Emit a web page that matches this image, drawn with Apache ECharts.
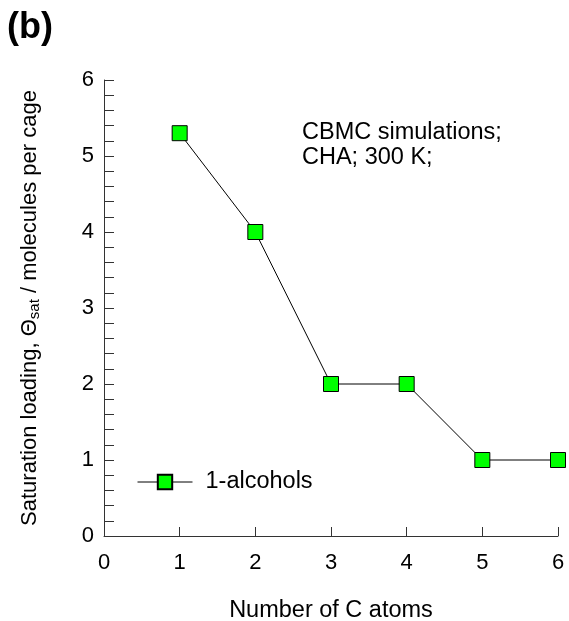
<!DOCTYPE html>
<html>
<head>
<meta charset="utf-8">
<script src="https://cdn.jsdelivr.net/npm/echarts@6/dist/echarts.min.js"></script>
<style>
  html, body { margin: 0; padding: 0; background: #fff; }
  #chart { width: 569px; height: 621px; }
</style>
</head>
<body>
<div id="chart"></div>
<script>
// Number of carbon atoms in each 1-alcohol
var carbonAtoms = [1, 2, 3, 4, 5, 6];
// Saturation loading, molecules per cage
var satLoading = [5.3, 4, 2, 2, 1, 1];
var xTicks = [0, 1, 2, 3, 4, 5, 6];
var yTicks = [0, 1, 2, 3, 4, 5, 6];
var seriesName = '1-alcohols';

var font = 'Arial, "Liberation Sans", sans-serif';
var chart = echarts.init(document.getElementById('chart'), null, { renderer: 'canvas' });

chart.setOption({
  animation: false,
  backgroundColor: '#fff',
  textStyle: { fontFamily: font },
  grid: {
    left: 104, right: 11, top: 80, bottom: 85,
    containLabel: false, outerBoundsMode: 'none'
  },
  title: {
    text: '(b)', left: 2, top: 5,
    textStyle: { fontFamily: font, fontSize: 36, fontWeight: 'bold', color: '#000' }
  },
  legend: {
    left: 137, top: 470, padding: 0,
    itemWidth: 55, itemHeight: 18, itemGap: 0,
    lineStyle: { width: 1, color: '#000' },
    textStyle: { fontFamily: font, fontSize: 23.5, color: '#000', padding: [0, 0, 0, 8] },
    data: [{ name: seriesName }]
  },
  graphic: [{
    type: 'text', left: 302, top: 120,
    style: {
      text: 'CBMC simulations;\nCHA; 300 K;',
      font: '23.5px ' + font, fill: '#000', lineHeight: 25
    }
  }],
  xAxis: {
    type: 'value', min: xTicks[0], max: xTicks[xTicks.length - 1], interval: 1,
    name: 'Number of C atoms', nameLocation: 'middle', nameGap: 63,
    nameTextStyle: { fontFamily: font, fontSize: 23.5, color: '#000' },
    axisLine: { onZero: false, lineStyle: { color: '#333', width: 1 } },
    axisTick: { inside: true, length: 9, lineStyle: { color: '#333' } },
    axisLabel: { fontFamily: font, fontSize: 22, color: '#000', margin: 16 },
    splitLine: { show: false }
  },
  yAxis: {
    type: 'value', min: yTicks[0], max: yTicks[yTicks.length - 1], interval: 1,
    name: '{n|Saturation loading, Θ}{s|sat}{n| / molecules per cage}',
    nameLocation: 'middle', nameGap: 62, nameRotate: 90,
    nameTextStyle: {
      rich: {
        n: { fontFamily: font, fontSize: 22, color: '#000' },
        s: { fontFamily: font, fontSize: 15, color: '#000', verticalAlign: 'bottom', padding: [9, 0, 0, 0] }
      }
    },
    axisLine: { onZero: false, lineStyle: { color: '#333', width: 1 } },
    axisTick: { inside: true, length: 10, lineStyle: { color: '#333' } },
    minorTick: { show: true, splitNumber: 5, length: 10, lineStyle: { color: '#333' } },
    axisLabel: { fontFamily: font, fontSize: 22, color: '#000', margin: 10 },
    splitLine: { show: false }
  },
  series: [{
    name: seriesName,
    type: 'line',
    data: carbonAtoms.map(function (c, i) { return [c, satLoading[i]]; }),
    symbol: 'rect', symbolSize: 15,
    itemStyle: { color: '#00ff00', borderColor: '#000', borderWidth: 1 },
    lineStyle: { color: '#000', width: 1 },
    z: 3
  }]
});
</script>
</body>
</html>
